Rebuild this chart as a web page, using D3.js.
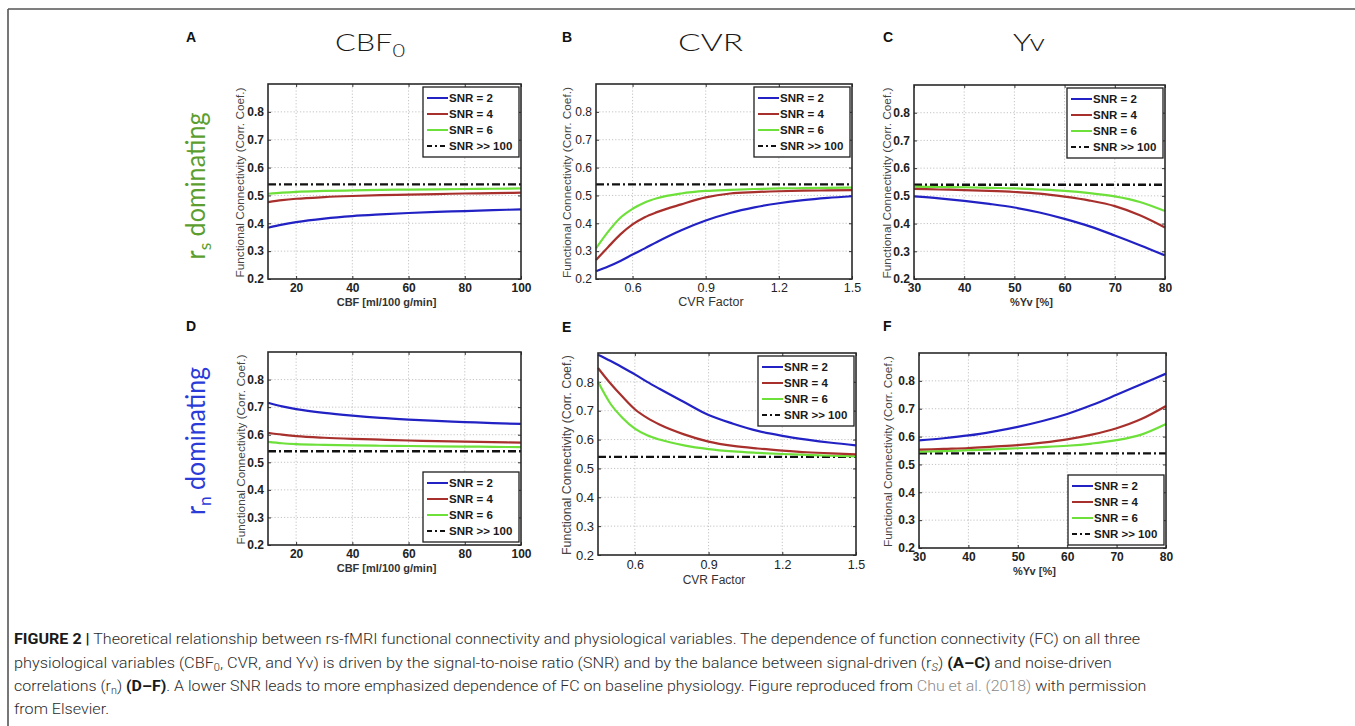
<!DOCTYPE html>
<html><head><meta charset="utf-8">
<script src="https://cdn.jsdelivr.net/npm/d3@7"></script>
<style>body{margin:0;background:#fff}svg{display:block}</style>
</head><body><svg id="c" width="1355" height="726"></svg>
<script>
// ---------------- DATA ----------------
const cbfX = [10, 15, 20, 30, 40, 50, 60, 70, 80, 90, 100];
const cvrX = [0.45, 0.5, 0.55, 0.6, 0.65, 0.7, 0.8, 0.9, 1.0, 1.1, 1.2, 1.3, 1.4, 1.5];
const yvX  = [30, 35, 40, 45, 50, 55, 60, 65, 70, 75, 80];

const cbfTicks = [20, 40, 60, 80, 100];
const cvrTicks = [0.6, 0.9, 1.2, 1.5];
const yvTicks  = [30, 40, 50, 60, 70, 80];
const yTicks   = [0.2, 0.3, 0.4, 0.5, 0.6, 0.7, 0.8];
const yTickLabels = ["0.2", "0.3", "0.4", "0.5", "0.6", "0.7", "0.8"];

const legendLabels = ["SNR = 2", "SNR = 4", "SNR = 6", "SNR >> 100"];
const snrInfinity = 0.54;

// Panel A (rs dominating, CBF0)
const A_snr2 = [0.384, 0.395, 0.404, 0.417, 0.426, 0.432, 0.437, 0.441, 0.444, 0.447, 0.450];
const A_snr4 = [0.476, 0.483, 0.488, 0.494, 0.498, 0.501, 0.503, 0.505, 0.507, 0.508, 0.510];
const A_snr6 = [0.506, 0.510, 0.513, 0.516, 0.518, 0.520, 0.521, 0.522, 0.523, 0.524, 0.525];
// Panel B (rs dominating, CVR)
const B_snr2 = [0.228, 0.245, 0.265, 0.288, 0.310, 0.333, 0.375, 0.410, 0.437, 0.457, 0.472, 0.483, 0.491, 0.497];
const B_snr4 = [0.268, 0.315, 0.360, 0.396, 0.422, 0.440, 0.468, 0.493, 0.507, 0.512, 0.515, 0.517, 0.518, 0.519];
const B_snr6 = [0.310, 0.370, 0.420, 0.452, 0.475, 0.490, 0.507, 0.516, 0.520, 0.523, 0.525, 0.526, 0.527, 0.528];
// Panel C (rs dominating, Yv)
const C_snr2 = [0.498, 0.491, 0.482, 0.471, 0.458, 0.440, 0.417, 0.390, 0.357, 0.322, 0.285];
const C_snr4 = [0.525, 0.523, 0.521, 0.518, 0.514, 0.508, 0.497, 0.483, 0.463, 0.430, 0.386];
const C_snr6 = [0.533, 0.532, 0.531, 0.529, 0.527, 0.523, 0.518, 0.510, 0.498, 0.478, 0.445];
// Panel D (rn dominating, CBF0)
const D_snr2 = [0.716, 0.703, 0.693, 0.679, 0.669, 0.661, 0.655, 0.650, 0.646, 0.642, 0.639];
const D_snr4 = [0.607, 0.600, 0.595, 0.589, 0.585, 0.582, 0.579, 0.577, 0.575, 0.573, 0.571];
const D_snr6 = [0.574, 0.569, 0.566, 0.563, 0.561, 0.560, 0.559, 0.558, 0.557, 0.556, 0.555];
// Panel E (rn dominating, CVR)
const E_snr2 = [0.894, 0.873, 0.850, 0.826, 0.800, 0.776, 0.730, 0.685, 0.655, 0.630, 0.613, 0.600, 0.589, 0.580];
const E_snr4 = [0.848, 0.795, 0.748, 0.705, 0.675, 0.652, 0.618, 0.593, 0.578, 0.569, 0.562, 0.556, 0.552, 0.549];
const E_snr6 = [0.800, 0.725, 0.675, 0.638, 0.615, 0.600, 0.580, 0.567, 0.559, 0.554, 0.550, 0.547, 0.544, 0.542];
// Panel F (rn dominating, Yv)
const F_snr2 = [0.586, 0.594, 0.604, 0.618, 0.635, 0.656, 0.681, 0.713, 0.750, 0.788, 0.826];
const F_snr4 = [0.553, 0.556, 0.559, 0.564, 0.569, 0.578, 0.590, 0.607, 0.630, 0.663, 0.710];
const F_snr6 = [0.546, 0.548, 0.551, 0.554, 0.558, 0.562, 0.567, 0.575, 0.587, 0.607, 0.645];

// ---------------- STYLE ----------------
const seriesColors = ["#2222c4", "#a8302c", "#6ee03a"];
const FONT = "'Liberation Sans', Arial, sans-serif";
const TITLE_FONT = "Lato, 'Noto Sans', sans-serif";

const svg = d3.select("#c");

// figure border (top + left)
svg.append("line").attr("x1", 8).attr("x2", 1355).attr("y1", 9).attr("y2", 9)
  .attr("stroke", "#555").attr("stroke-width", 1.6);
svg.append("line").attr("x1", 8).attr("x2", 8).attr("y1", 9).attr("y2", 726)
  .attr("stroke", "#555").attr("stroke-width", 1.6);

const panels = [
  {letter: "A", lx: 186, ly: 42, L: 268, R: 521, T: 84, B: 279, xs: cbfX, dom: [10, 100], ticks: cbfTicks,
   fmt: d3.format("d"), xLabel: "CBF [ml/100 g/min]", ys: [A_snr2, A_snr4, A_snr6], leg: "top",
   ylx: 240, xlBold: true, tickBold: true, xlSize: 11, ylSize: 10.3, ylLen: 190, tp: 4, xly: 27},
  {letter: "B", lx: 562, ly: 42, L: 596, R: 852, T: 84, B: 279, xs: cvrX, dom: [0.45, 1.5], ticks: cvrTicks,
   fmt: d3.format(".1f"), xLabel: "CVR Factor", ys: [B_snr2, B_snr4, B_snr6], leg: "top",
   ylx: 566.5, xlBold: false, tickBold: false, xlSize: 12.5, ylSize: 10.5, ylLen: 191, tp: 4, xly: 27},
  {letter: "C", lx: 883, ly: 42, L: 914, R: 1165, T: 85, B: 279, xs: yvX, dom: [30, 80], ticks: yvTicks,
   fmt: d3.format("d"), xLabel: "%Yv [%]", ys: [C_snr2, C_snr4, C_snr6], leg: "top",
   ylx: 887, xlBold: true, tickBold: true, xlSize: 11, ylSize: 10.5, ylLen: 191, tp: 4, xly: 27},
  {letter: "D", lx: 186, ly: 331, L: 268, R: 521, T: 352, B: 545, xs: cbfX, dom: [10, 100], ticks: cbfTicks,
   fmt: d3.format("d"), xLabel: "CBF [ml/100 g/min]", ys: [D_snr2, D_snr4, D_snr6], leg: "bottom",
   ylx: 241.5, xlBold: true, tickBold: true, xlSize: 11, ylSize: 10.3, ylLen: 190, tp: 4, xly: 27},
  {letter: "E", lx: 562, ly: 331.5, L: 598, R: 856, T: 353, B: 555, xs: cvrX, dom: [0.45, 1.5], ticks: cvrTicks,
   fmt: d3.format(".1f"), xLabel: "CVR Factor", ys: [E_snr2, E_snr4, E_snr6], leg: "top",
   ylx: 567, xlBold: false, tickBold: false, xlSize: 12, ylSize: 12, ylLen: 200, tp: 5, xly: 28.5},
  {letter: "F", lx: 883, ly: 331, L: 919, R: 1166, T: 353, B: 548, xs: yvX, dom: [30, 80], ticks: yvTicks,
   fmt: d3.format("d"), xLabel: "%Yv [%]", ys: [F_snr2, F_snr4, F_snr6], leg: "bottom",
   ylx: 888, xlBold: true, tickBold: true, xlSize: 11, ylSize: 10.5, ylLen: 191, tp: 4, xly: 27}
];

panels.forEach(p => {
  const g = svg.append("g");
  const x = d3.scaleLinear().domain(p.dom).range([p.L, p.R]);
  const y = d3.scaleLinear().domain([0.2, 0.9]).range([p.B, p.T]);
  const wt = p.tickBold ? "bold" : "normal";

  // panel letter
  svg.append("text").attr("x", p.lx).attr("y", p.ly).text(p.letter)
    .attr("font-family", FONT).attr("font-weight", "bold").attr("font-size", 14).attr("fill", "#111");

  // grid
  const grid = g.append("g").attr("stroke", "#bdbdbd").attr("stroke-width", 0.9).attr("stroke-dasharray", "1.2,2");
  p.ticks.forEach(t => {
    const px = x(t);
    if (px > p.L + 2 && px < p.R - 2)
      grid.append("line").attr("x1", px).attr("x2", px).attr("y1", p.T).attr("y2", p.B);
  });
  yTicks.forEach(t => {
    const py = y(t);
    if (py > p.T + 2 && py < p.B - 2)
      grid.append("line").attr("x1", p.L).attr("x2", p.R).attr("y1", py).attr("y2", py);
  });

  // axes (inward ticks)
  const ax = g.append("g").attr("transform", `translate(${p.L},0)`)
    .call(d3.axisLeft(y).tickValues(yTicks).tickFormat((d, i) => yTickLabels[i]).tickSize(-3).tickPadding(4));
  ax.select(".domain").remove();
  ax.selectAll("text").attr("font-family", FONT).attr("font-size", p.letter === "E" ? 13 : 12)
    .attr("font-weight", wt).attr("fill", "#222");
  ax.selectAll("line").attr("stroke", "#333");

  const bx = g.append("g").attr("transform", `translate(0,${p.B})`)
    .call(d3.axisBottom(x).tickValues(p.ticks).tickFormat(p.fmt).tickSize(-3).tickPadding(p.tp));
  bx.select(".domain").remove();
  bx.selectAll("text").attr("font-family", FONT).attr("font-size", p.tickBold ? 12 : 12.5)
    .attr("font-weight", wt).attr("fill", "#222");
  bx.selectAll("line").attr("stroke", "#333");

  const rx = g.append("g").attr("transform", `translate(${p.R},0)`)
    .call(d3.axisRight(y).tickValues(yTicks).tickSize(-3).tickFormat(""));
  rx.select(".domain").remove(); rx.selectAll("line").attr("stroke", "#333");
  const tx = g.append("g").attr("transform", `translate(0,${p.T})`)
    .call(d3.axisTop(x).tickValues(p.ticks).tickSize(-3).tickFormat(""));
  tx.select(".domain").remove(); tx.selectAll("line").attr("stroke", "#333");

  // curves
  const line = d3.line().x(d => x(d[0])).y(d => y(d[1])).curve(d3.curveMonotoneX);
  // SNR >> 100 reference
  g.append("path").datum(p.dom.map(v => [v, snrInfinity])).attr("d", line)
    .attr("fill", "none").attr("stroke", "#111").attr("stroke-width", 2.3).attr("stroke-dasharray", "8,3,2,3");
  [2, 1, 0].forEach(k => {
    g.append("path").datum(p.xs.map((v, i) => [v, p.ys[k][i]])).attr("d", line)
      .attr("fill", "none").attr("stroke", seriesColors[k]).attr("stroke-width", 2.2);
  });

  // frame
  g.append("rect").attr("x", p.L).attr("y", p.T).attr("width", p.R - p.L).attr("height", p.B - p.T)
    .attr("fill", "none").attr("stroke", "#2a2a2a").attr("stroke-width", 1.6);

  // legend
  const lw = 96, lh = 70;
  const lxp = p.R - 2 - lw;
  const lyp = p.leg === "top" ? p.T + 3 : p.B - 3 - lh;
  const lg = g.append("g").attr("transform", `translate(${lxp},${lyp})`);
  lg.append("rect").attr("width", lw).attr("height", lh).attr("fill", "#fff")
    .attr("stroke", "#1e1e1e").attr("stroke-width", 1.3);
  legendLabels.forEach((lab, i) => {
    const yy = 11 + i * 16;
    lg.append("line").attr("x1", 4).attr("x2", 25).attr("y1", yy).attr("y2", yy)
      .attr("stroke", i < 3 ? seriesColors[i] : "#111").attr("stroke-width", 2)
      .attr("stroke-dasharray", i < 3 ? null : "5,3,2,3");
    lg.append("text").attr("x", 26).attr("y", yy).attr("dy", "0.36em").text(lab)
      .attr("font-family", FONT).attr("font-weight", "bold").attr("font-size", 11.5).attr("fill", "#1a1a1a");
  });

  // axis labels
  g.append("text").attr("x", (p.L + p.R) / 2 + (p.letter === "B" || p.letter === "E" ? -13 : -8))
    .attr("y", p.B + p.xly).attr("text-anchor", "middle")
    .attr("font-family", FONT).attr("font-size", p.xlSize).attr("font-weight", p.xlBold ? "bold" : "normal")
    .attr("fill", "#333").text(p.xLabel);
  g.append("text").attr("transform", `translate(${p.ylx},${(p.T + p.B) / 2 + 1}) rotate(-90)`)
    .attr("text-anchor", "middle").attr("dominant-baseline", "central")
    .attr("font-family", FONT).attr("font-size", p.ylSize).attr("fill", "#444")
    .attr("textLength", p.ylLen).attr("lengthAdjust", "spacingAndGlyphs")
    .text("Functional Connectivity (Corr. Coef.)");
});

// column titles
const colTitles = [
  {x: 335, main: "CBF", sub: "0", w: 70},
  {x: 678, main: "CVR", sub: "", w: 65},
  {x: 1013, main: "Yv", sub: "", w: 32}
];
colTitles.forEach(t => {
  const tt = svg.append("text").attr("x", t.x).attr("y", 51)
    .attr("font-family", TITLE_FONT).attr("font-weight", 300).attr("font-size", 24).attr("fill", "#1a1a1a");
  tt.append("tspan").text(t.main);
  if (t.sub) tt.append("tspan").attr("dy", 6).attr("font-size", 17).text(t.sub);
  tt.attr("textLength", t.w).attr("lengthAdjust", "spacingAndGlyphs");
});

// row labels
const rowLabels = [
  {cy: 186, main: "r", sub: "s", rest: " dominating", color: "#5c9e2e", len: 147},
  {cy: 441, main: "r", sub: "n", rest: " dominating", color: "#2b3bd8", len: 148}
];
rowLabels.forEach(r => {
  const t = svg.append("text").attr("transform", `translate(205,${r.cy}) rotate(-90)`)
    .attr("text-anchor", "middle").attr("font-family", TITLE_FONT).attr("font-weight", 400)
    .attr("font-size", 26).attr("fill", r.color);
  t.append("tspan").text(r.main);
  t.append("tspan").attr("dy", 6).attr("font-size", 18).text(r.sub);
  t.append("tspan").attr("dy", -6).text(r.rest);
  t.attr("textLength", r.len).attr("lengthAdjust", "spacingAndGlyphs");
});

// caption
const CAP_FONT = "Roboto, 'Liberation Sans', sans-serif";
const capLines = [
  {y: 644, w: 1127, parts: [["b", "FIGURE 2 |"], ["n", " Theoretical relationship between rs-fMRI functional connectivity and physiological variables. The dependence of function connectivity (FC) on all three"]]},
  {y: 667.5, w: 1098, parts: [["n", "physiological variables (CBF"], ["s", "0"], ["n", ", CVR, and Yv) is driven by the signal-to-noise ratio (SNR) and by the balance between signal-driven (r"], ["si", "S"], ["n", ") "], ["b", "(A–C)"], ["n", " and noise-driven"]]},
  {y: 690.5, w: 1133, parts: [["n", "correlations (r"], ["s", "n"], ["n", ") "], ["b", "(D–F)"], ["n", ". A lower SNR leads to more emphasized dependence of FC on baseline physiology. Figure reproduced from "], ["g", "Chu et al. (2018)"], ["n", " with permission"]]},
  {y: 713.5, w: null, parts: [["n", "from Elsevier."]]}
];
let scales = [];
capLines.forEach((ln, li) => {
  const g = svg.append("g");
  const t = g.append("text").attr("x", 0).attr("y", 0)
    .attr("font-family", CAP_FONT).attr("font-weight", 300).attr("font-size", 15.5).attr("fill", "#2b2b2b");
  let shifted = false;
  ln.parts.forEach(([k, s]) => {
    const sp = t.append("tspan").text(s);
    if (k === "b") sp.attr("font-weight", 700).attr("fill", "#1a1a1a");
    if (k === "g") sp.attr("fill", "#8a8a8a");
    if (k === "s" || k === "si") {
      sp.attr("dy", 3).attr("font-size", 10.5); shifted = true;
      if (k === "si") sp.attr("font-style", "italic");
    } else if (shifted) { sp.attr("dy", -3); shifted = false; }
  });
  const natural = t.node().getComputedTextLength();
  let sc = ln.w ? ln.w / natural : d3.mean(scales);
  scales.push(sc);
  g.attr("transform", `translate(14,${ln.y}) scale(${sc},1)`);
});
</script>
</body></html>
